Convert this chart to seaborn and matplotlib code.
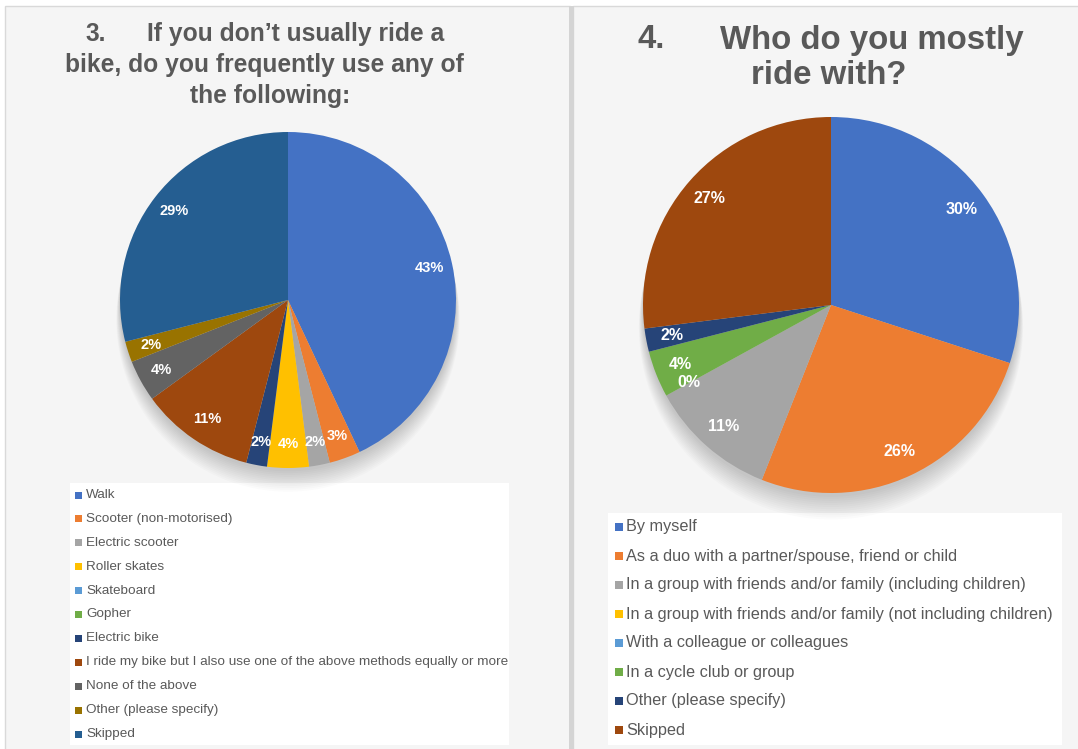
import matplotlib
matplotlib.use("Agg")
import matplotlib.pyplot as plt
from matplotlib.patches import Rectangle, Circle
import numpy as np
import pandas as pd
import seaborn as sns

# ---- survey answers -------------------------------------------------------
modes = [
    "Walk",
    "Scooter (non-motorised)",
    "Electric scooter",
    "Roller skates",
    "Skateboard",
    "Gopher",
    "Electric bike",
    "I ride my bike but I also use one of the above methods equally or more",
    "None of the above",
    "Other (please specify)",
    "Skipped",
]
mode_share = [43, 3, 2, 4, 0, 0, 2, 11, 4, 2, 29]
mode_labelled = [True, True, True, True, False, False, True, True, True, True, True]

companions = [
    "By myself",
    "As a duo with a partner/spouse, friend or child",
    "In a group with friends and/or family (including children)",
    "In a group with friends and/or family (not including children)",
    "With a colleague or colleagues",
    "In a cycle club or group",
    "Other (please specify)",
    "Skipped",
]
companion_share = [30, 26, 11, 0, 0, 4, 2, 27]
companion_labelled = [True, True, True, True, False, True, True, True]

office_colors = ["#4472C4", "#ED7D31", "#A5A5A5", "#FFC000", "#5B9BD5", "#70AD47",
                 "#264478", "#9E480E", "#636363", "#997300", "#255E91"]

df_modes = pd.DataFrame({"answer": modes, "share": mode_share, "show": mode_labelled})
df_comp = pd.DataFrame({"answer": companions, "share": companion_share, "show": companion_labelled})

sns.set_theme(style="white")
plt.rcParams["font.family"] = ["Liberation Sans", "DejaVu Sans"]

W, H = 1078, 749
fig = plt.figure(figsize=(W / 100, H / 100), dpi=100, facecolor="white")

TXT = "#595959"


def fx(x):
    return x / W


def fy(y):
    return 1 - y / H


def frect(x0, y0, x1, y1, **kw):
    fig.patches.append(Rectangle((fx(x0), fy(y1)), (x1 - x0) / W, (y1 - y0) / H,
                                 transform=fig.transFigure, **kw))


# panel backgrounds and frames
frect(5, 6, 570, 752, facecolor="#f5f5f5", edgecolor="#d9d9d9", linewidth=1, zorder=-2)
frect(573, 6, 1081, 752, facecolor="#f5f5f5", edgecolor="#d9d9d9", linewidth=1, zorder=-2)
frect(569, 6, 574, 752, facecolor="#d4d4d4", edgecolor="none", zorder=-1)


def draw_pie(df, cx, cy, r, label_size):
    ax = fig.add_axes([fx(cx - r), fy(cy + r), 2 * r / W, 2 * r / H])
    ax.set_zorder(3)
    ax.set_facecolor("none")
    # soft drop shadow falling below the pie
    for k in range(12):
        ax.add_patch(Circle((0, -0.02 - 0.009 * k), 1.0 + 0.002 * k,
                            facecolor="black", alpha=0.014, edgecolor="none",
                            clip_on=False, zorder=0))
    palette = sns.color_palette(office_colors[:len(df)])
    wedges, _ = ax.pie(df["share"], colors=palette, startangle=90, counterclock=False,
                       radius=1, wedgeprops=dict(linewidth=0))
    for w in wedges:
        w.set_zorder(2)
    for w, v, show in zip(wedges, df["share"], df["show"]):
        if not show:
            continue
        th = np.deg2rad((w.theta1 + w.theta2) / 2)
        ax.text(0.86 * np.cos(th), 0.86 * np.sin(th), f"{v}%", color="white",
                fontsize=label_size, fontweight="bold", ha="center", va="center", zorder=3)
    ax.set_xlim(-1, 1)
    ax.set_ylim(-1, 1)
    ax.set_aspect("equal")
    ax.axis("off")
    return palette


def draw_legend(df, palette, box, first_y, step, text_x, fs, sq):
    x0, y0, x1, y1 = box
    frect(x0, y0, x1, y1, facecolor="white", edgecolor="none", zorder=1)
    for i, (name, col) in enumerate(zip(df["answer"], palette)):
        y = first_y + step * i
        frect(text_x - 11, y - sq / 2, text_x - 11 + sq, y + sq / 2,
              facecolor=col, edgecolor="none", zorder=2)
        fig.text(fx(text_x), fy(y), name, fontsize=fs, color=TXT, ha="left", va="center")


pal_l = draw_pie(df_modes, 288, 300, 168, 10.5)
pal_r = draw_pie(df_comp, 831, 305, 188, 11.5)

draw_legend(df_modes, pal_l, (70, 483, 509, 745), 495, 23.9, 86, 9.7, 7)
draw_legend(df_comp, pal_r, (608, 513, 1062, 745), 527, 29.0, 626, 11.7, 8)

# titles
tkw = dict(fontsize=17.7, fontweight="bold", color=TXT, va="center")
fig.text(fx(85), fy(34), "3.", ha="left", **tkw)
fig.text(fx(147), fy(34), "If you don\u2019t usually ride a", ha="left", **tkw)
fig.text(fx(264), fy(65), "bike, do you frequently use any of", ha="center", **tkw)
fig.text(fx(270), fy(96), "the following:", ha="center", **tkw)

rkw = dict(fontsize=23.8, fontweight="bold", color=TXT, va="center")
fig.text(fx(638), fy(40), "4.", ha="left", **rkw)
fig.text(fx(720), fy(40), "Who do you mostly", ha="left", **rkw)
fig.text(fx(829), fy(76), "ride with?", ha="center", **rkw)

fig.savefig("out.png", dpi=100, facecolor="white")
